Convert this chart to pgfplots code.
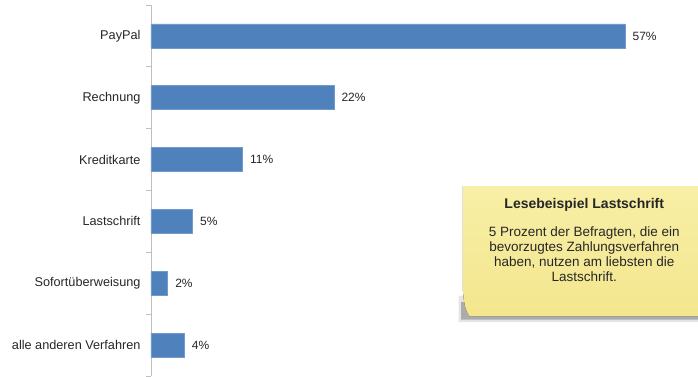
\documentclass[border=0pt]{standalone}
\usepackage{pgfplots}
\pgfplotsset{compat=1.18}
\usepackage{fontspec}
\setmainfont{Liberation Sans}
\definecolor{barblue}{HTML}{4F81BD}
\definecolor{axisgray}{HTML}{BFBFBF}
\definecolor{txt}{HTML}{262626}
\definecolor{notetop}{HTML}{F8EFA6}
\definecolor{notebot}{HTML}{F3E68E}
\begin{document}
\begin{tikzpicture}
% fixed page frame: labels on the left, the note runs off the right edge
\path[use as bounding box] (-151pt,0pt) rectangle (547pt,376pt);
\begin{axis}[
  at={(0pt,0pt)}, anchor=south west,
  scale only axis, width=547pt, height=371pt,
  xmin=0, xmax=65.78, ymin=-0.5, ymax=5.5, y dir=reverse,
  xbar, bar width=24pt,
  axis x line=none,
  axis y line*=left,
  y axis line style={draw=axisgray, line width=0.8pt},
  ytick={0,...,5},
  yticklabels={PayPal,Rechnung,Kreditkarte,Lastschrift,Sofortüberweisung,alle anderen Verfahren},
  major tick length=0pt,
  minor ytick={-0.5,0.5,...,5.5},
  minor tick length=5pt,
  tick align=outside,
  minor tick style={draw=axisgray, line width=0.8pt},
  yticklabel style={font=\fontsize{12.7}{14}\selectfont, text=txt, xshift=-7pt},
  /pgf/number format/assume math mode=true,
  nodes near coords={\pgfmathprintnumber{\pgfplotspointmeta}\%},
  point meta=x,
  every node near coord/.append style={font=\fontsize{12}{14}\selectfont, text=txt, xshift=4pt},
  clip=false,
]
\addplot[fill=barblue, draw=barblue!80!white, line width=0.6pt] coordinates {
  (57,0) (22,1) (11,2) (5,3) (2,4) (4,5)
};
% reading example note: soft shadow below the paper, heavier at the lower left
\fill[black, opacity=0.10] (axis cs:37.0,4.2) -- (axis cs:37.0,4.63) -- (axis cs:68,4.63) -- (axis cs:68,4.4) -- cycle;
\fill[black, opacity=0.25] (axis cs:37.3,4.3) -- (axis cs:37.3,4.59) -- (axis cs:68,4.59) -- (axis cs:68,4.5) -- cycle;
\fill[top color=notetop, bottom color=notebot]
  (axis cs:37.5,2.43) -- (axis cs:68,2.43) -- (axis cs:68,4.53) -- (axis cs:38.3,4.53)
  .. controls (axis cs:37.8,4.45) and (axis cs:37.6,4.3) .. (axis cs:37.5,4.1) -- cycle;
\node[font=\bfseries\fontsize{14}{16}\selectfont, text=txt] at (axis cs:52.1,2.74) {Lesebeispiel Lastschrift};
\node[font=\fontsize{13.5}{15}\selectfont, text=txt, align=center] at (axis cs:52.1,3.53)
  {5 Prozent der Befragten, die ein\\bevorzugtes Zahlungsverfahren\\haben, nutzen am liebsten die\\Lastschrift.};
\end{axis}
\end{tikzpicture}
\end{document}
